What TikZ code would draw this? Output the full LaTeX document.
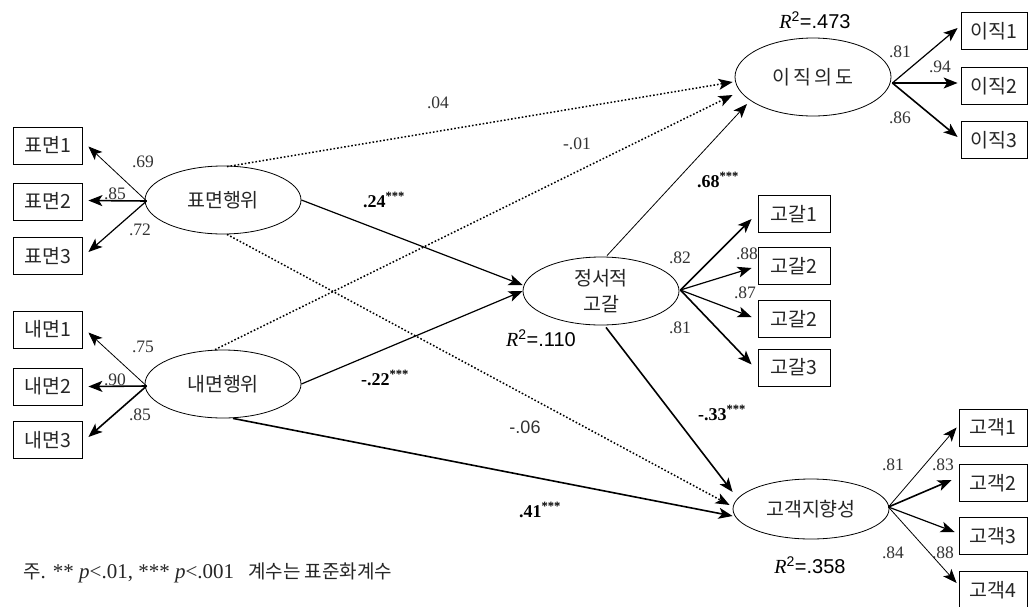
\documentclass[tikz,border=0pt]{standalone}
\usepackage{fontspec}
\setmainfont{Liberation Serif}
\newfontfamily\kr{Noto Sans CJK KR}
\newfontfamily\lsans{Liberation Sans}
\usetikzlibrary{shapes.geometric,arrows.meta}
\tikzset{
 lat/.style={ellipse,draw,line width=0.8pt,minimum width=156pt,minimum height=68pt,inner sep=0pt,font=\kr\fontsize{19.5}{26}\selectfont,align=center,text=black!85},
 ind/.style={rectangle,draw,line width=0.8pt,minimum height=37pt,inner sep=0pt,font=\kr\fontsize{19.5}{22}\selectfont,text=black!85},
 arr/.style={-{Stealth[length=14pt,width=11pt,inset=3.5pt]}},
 thinarr/.style={arr,line width=0.8pt},
 midarr/.style={arr,line width=1.2pt},
 thickarr/.style={arr,line width=1.6pt},
 dotarr/.style={arr,line width=1.5pt,dash pattern=on 1.6pt off 2.0pt},
 ld/.style={font=\fontsize{17.5}{19}\selectfont,text=black!80,inner sep=0pt},
 coef/.style={font=\bfseries\fontsize{18}{20}\selectfont,inner sep=0pt},
 rsq/.style={font=\fontsize{20}{22}\selectfont,inner sep=0pt},
}
\begin{document}
\begin{tikzpicture}[x=1pt,y=-1pt]
\path[use as bounding box,clip] (0,0) rectangle (1029,606);
\fill[white] (0,0) rectangle (1029,606);

% latent variables
\node[lat] (sa) at (223,200) {표면행위};
\node[lat] (da) at (223,384) {내면행위};
\node[lat] (ee) at (601,291) {정서적\\고갈};
\node[lat,minimum height=78pt] (ti) at (813,77) {이\,직\,의\,도};
\node[lat,minimum height=60pt] (co) at (811,509) {고객지향성};

% indicators left
\node[ind,minimum width=69pt] (s1) at (47.5,145.5) {표면1};
\node[ind,minimum width=69pt] (s2) at (47.5,201.5) {표면2};
\node[ind,minimum width=69pt] (s3) at (47.5,256) {표면3};
\node[ind,minimum width=69pt] (d1) at (47.5,329.5) {내면1};
\node[ind,minimum width=69pt] (d2) at (47.5,386.5) {내면2};
\node[ind,minimum width=69pt] (d3) at (47.5,440) {내면3};
% indicators right
\node[ind,minimum width=66pt] (t1) at (994,31) {이직1};
\node[ind,minimum width=66pt] (t2) at (994,86) {이직2};
\node[ind,minimum width=66pt] (t3) at (994,140) {이직3};
\node[ind,minimum width=72pt] (e1) at (794,214) {고갈1};
\node[ind,minimum width=72pt] (e2) at (794,266) {고갈2};
\node[ind,minimum width=72pt] (e3) at (794,319) {고갈2};
\node[ind,minimum width=72pt] (e4) at (794,367.5) {고갈3};
\node[ind,minimum width=68pt] (c1) at (993,427.5) {고객1};
\node[ind,minimum width=68pt] (c2) at (993,483) {고객2};
\node[ind,minimum width=68pt] (c3) at (993,536) {고객3};
\node[ind,minimum width=68pt] (c4) at (993,590) {고객4};

% measurement arrows
\draw[thinarr] ([shift={(2,1)}]sa.west) -- ([shift={(6,1)}]s1.east);
\draw[thickarr] ([shift={(2,1)}]sa.west) -- ([shift={(6,-1)}]s2.east);
\draw[midarr] ([shift={(2,1)}]sa.west) -- ([shift={(6,-4)}]s3.east);
\draw[thinarr] ([shift={(2,2)}]da.west) -- ([shift={(6,3)}]d1.east);
\draw[thickarr] ([shift={(2,2)}]da.west) -- ([shift={(6,0)}]d2.east);
\draw[thickarr] ([shift={(2,2)}]da.west) -- ([shift={(6,-3)}]d3.east);

\draw[midarr] ([shift={(1,6)}]ti.east) -- ([shift={(-3,-3)}]t1.west);
\draw[midarr] ([shift={(1,6)}]ti.east) -- ([shift={(-3,-3)}]t2.west);
\draw[thickarr] ([shift={(1,6)}]ti.east) -- ([shift={(-3,-3)}]t3.west);

\draw[thickarr] ([shift={(1,-1)}]ee.east) -- ([shift={(-6,5)}]e1.west);
\draw[midarr] ([shift={(1,-1)}]ee.east) -- ([shift={(-6,2)}]e2.west);
\draw[midarr] ([shift={(1,-1)}]ee.east) -- ([shift={(-6,-2)}]e3.west);
\draw[thickarr] ([shift={(1,-1)}]ee.east) -- ([shift={(-6,-3)}]e4.west);

\draw[thinarr] ([shift={(-1,-2)}]co.east) -- ([shift={(-2,0)}]c1.west);
\draw[thickarr] ([shift={(-1,-2)}]co.east) -- ([shift={(-7,-3)}]c2.west);
\draw[midarr] ([shift={(-1,-2)}]co.east) -- ([shift={(-4,-4)}]c3.west);
\draw[thinarr] ([shift={(-1,-2)}]co.east) -- ([shift={(-2,-7)}]c4.west);

% structural paths
\draw[dotarr] ([shift={(4,1)}]sa.north) -- ([shift={(-2,5)}]ti.west);
\draw[dotarr] ([shift={(-8,0)}]da.north) -- ([shift={(-2,18)}]ti.west);
\draw[dotarr] ([shift={(4,0)}]sa.south) -- ([shift={(-3,-4)}]co.west);
\draw[midarr] (sa.east) -- ([shift={(0,-6)}]ee.west);
\draw[midarr] (da.east) -- ([shift={(0,0)}]ee.west);
\draw[thickarr] ([shift={(10,0)}]da.south) -- ([shift={(0,7)}]co.west);
\draw[thinarr] ([shift={(6,-1)}]ee.north) -- ([shift={(-66,27)}]ti.center);
\draw[thickarr] ([shift={(5,2)}]ee.south) -- ([shift={(0,-17)}]co.west);

% loadings
\node[ld] (l1) at (143,162) {.69};
\node[ld] (l2) at (115,194) {.85};
\node[ld] (l3) at (140,230) {.72};
\node[ld] (l4) at (143,347) {.75};
\node[ld] (l5) at (115,380) {.90};
\node[ld] (l6) at (140,415) {.85};
\node[ld] (l7) at (900,52) {.81};
\node[ld] (l8) at (940,67) {.94};
\node[ld] (l9) at (900,118) {.86};
\node[ld] (l10) at (680,258) {.82};
\node[ld] (l11) at (747,254) {.88};
\node[ld] (l12) at (745,293) {.87};
\node[ld] (l13) at (680,328) {.81};
\node[ld] (l14) at (893,465) {.81};
\node[ld] (l15) at (943,465) {.83};
\node[ld] (l16) at (893,553) {.84};
\node[ld] (l17) at (943,553) {.88};

% path coefficients
\node[ld] (p1) at (438,103) {.04};
\node[ld] (p2) at (577,144) {-.01};
\node[ld,font=\lsans\fontsize{18}{20}\selectfont] (p3) at (525,427) {-.06};
\node[coef] (p4) at (384,200) {.24\textsuperscript{***}};
\node[coef] (p5) at (385,378) {-.22\textsuperscript{***}};
\node[coef] (p6) at (540,510) {.41\textsuperscript{***}};
\node[coef] (p7) at (718,180) {.68\textsuperscript{***}};
\node[coef] (p8) at (722,413) {-.33\textsuperscript{***}};

% R squared
\node[rsq] (r1) at (815,20) {\textit{R}\textsuperscript{\lsans 2}{\lsans =.473}};
\node[rsq] (r2) at (541,338) {\textit{R}\textsuperscript{\lsans 2}{\lsans =.110}};
\node[rsq] (r3) at (810,565) {\textit{R}\textsuperscript{\lsans 2}{\lsans =.358}};

% note
\node[anchor=west,inner sep=0pt,font=\fontsize{21}{23}\selectfont,text=black!85] (note) at (23,573)
 {{\kr\fontsize{19}{21}\selectfont 주}. ** \textit{p}<.01, *** \textit{p}<.001\hspace{14pt}{\kr\fontsize{19}{21}\selectfont 계수는 표준화계수}};
\end{tikzpicture}
\end{document}
